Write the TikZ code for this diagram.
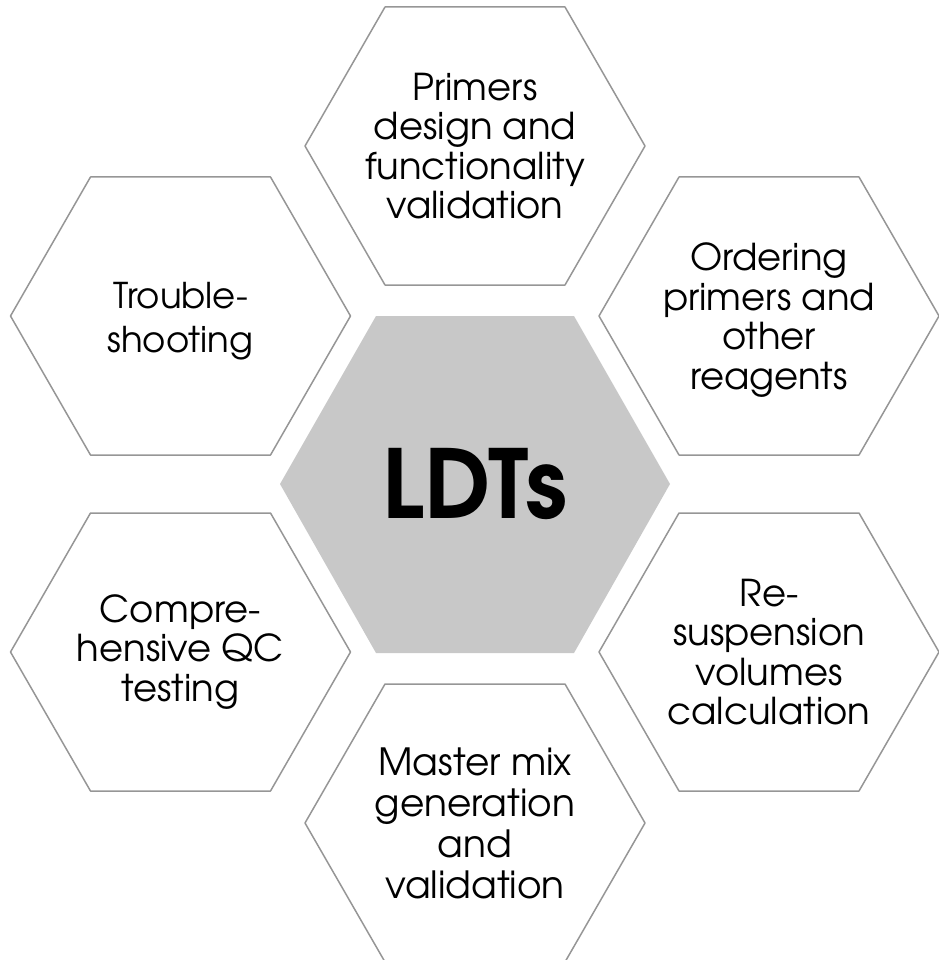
\documentclass[tikz,border=0pt]{standalone}
\usepackage{fontspec}
\setmainfont{TeX Gyre Adventor}

\definecolor{hexline}{RGB}{150,150,150}
\definecolor{hexfill}{RGB}{200,200,200}
\tikzset{
    hexside/.style={draw=hexline, line width=1.5pt, line join=round},
    hexlabel/.style={align=center, inner sep=0pt},
}

\begin{document}
\begin{tikzpicture}[x=1pt,y=-1pt]
    \useasboundingbox (0,0) rectangle (938,960);

    % centre
    \fill[hexfill] (280,484) -- (376,316) -- (574,316) -- (670,484) -- (574,653) -- (376,653) -- cycle;
    \node[font=\fontsize{95}{95}\selectfont\bfseries] (ldts) at (475,484) {LDTs};

    % ring of steps
    \foreach \n/\x/\y/\dy/\fs/\bs/\txt in {
        primers/475/146/0/37/39.5/{Primers\\design and\\functionality\\validation},
        ordering/769/316/4/37/39.5/{Ordering\\primers and\\other\\reagents},
        resusp/769/652/0/37/39.5/{Re-\\suspension\\volumes\\calculation},
        mastermix/475/823/0/37.5/41/{Master mix\\generation\\and\\validation},
        qctest/180.5/652/0/37/39.5/{Compre-\\hensive QC\\testing},
        trouble/180.5/316/5/35.5/44.5/{Trouble-\\shooting}} {
        \draw[hexside] (\x-170,\y) -- ++(80,-139) -- ++(180,0) -- ++(80,139) -- ++(-80,139) -- ++(-180,0) -- cycle;
        \node[hexlabel, font=\fontsize{\fs}{\bs}\selectfont] (\n) at (\x,\y+\dy) {\txt};
    }
\end{tikzpicture}
\end{document}
